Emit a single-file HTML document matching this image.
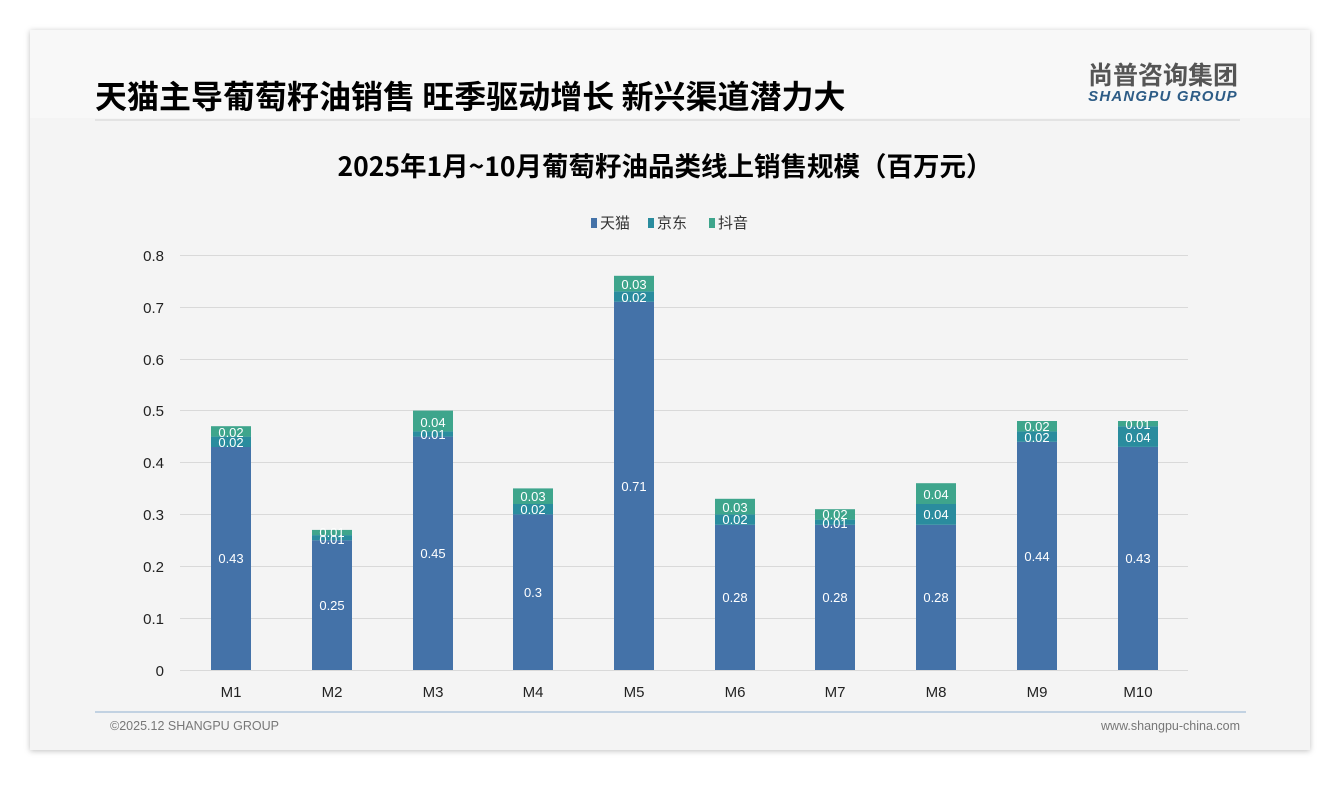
<!DOCTYPE html><html><head><meta charset="utf-8"><style>
body{margin:0;width:1340px;height:780px;background:#fff;font-family:"Liberation Sans","Noto Sans CJK SC",sans-serif;overflow:hidden}
</style></head><body>
<svg width="1340" height="780" xmlns="http://www.w3.org/2000/svg" font-family="Liberation Sans, Noto Sans CJK SC, sans-serif">
<defs><filter id="s" x="-5%" y="-5%" width="110%" height="110%"><feDropShadow dx="0" dy="1" stdDeviation="3" flood-color="#000" flood-opacity="0.25"/></filter></defs>
<rect x="30" y="30" width="1280" height="720" fill="#f4f4f4" filter="url(#s)"/>
<rect x="30" y="30" width="1280" height="88" fill="#f8f8f8"/>
<text x="95" y="108" font-size="32" font-weight="bold" fill="#000" font-family="Noto Sans CJK SC, sans-serif">天猫主导葡萄籽油销售 旺季驱动增长 新兴渠道潜力大</text>
<text x="1163" y="84" font-size="25" font-weight="bold" fill="#555" text-anchor="middle" font-family="Noto Sans CJK SC, sans-serif">尚普咨询集团</text>
<text x="1163" y="101" font-size="15" font-weight="bold" font-style="italic" fill="#2d5c86" text-anchor="middle" letter-spacing="1.2">SHANGPU GROUP</text>
<line x1="95" y1="120" x2="1240" y2="120" stroke="#ddd" stroke-width="1.5"/>
<text x="665" y="176" font-size="26.5" font-weight="bold" fill="#000" text-anchor="middle" font-family="Noto Sans CJK SC, sans-serif">2025年1月~10月葡萄籽油品类线上销售规模（百万元）</text>
<g font-size="15" fill="#333" font-family="Noto Sans CJK SC, sans-serif">
<rect x="591" y="218" width="6" height="10" fill="#4472a8"/><text x="600" y="228">天猫</text>
<rect x="648" y="218" width="6" height="10" fill="#2a8c9e"/><text x="657" y="228">京东</text>
<rect x="709" y="218" width="6" height="10" fill="#3ea58c"/><text x="718" y="228">抖音</text>
</g>
<g stroke="#d9d9d9" stroke-width="1">
<line x1="180" y1="255.5" x2="1188" y2="255.5"/><line x1="180" y1="307.5" x2="1188" y2="307.5"/><line x1="180" y1="359.5" x2="1188" y2="359.5"/><line x1="180" y1="410.5" x2="1188" y2="410.5"/><line x1="180" y1="462.5" x2="1188" y2="462.5"/><line x1="180" y1="514.5" x2="1188" y2="514.5"/><line x1="180" y1="566.5" x2="1188" y2="566.5"/><line x1="180" y1="618.5" x2="1188" y2="618.5"/><line x1="180" y1="670.5" x2="1188" y2="670.5"/>
</g>
<g font-size="15" fill="#222" text-anchor="end">
<text x="164" y="261">0.8</text><text x="164" y="313">0.7</text><text x="164" y="365">0.6</text><text x="164" y="416">0.5</text><text x="164" y="468">0.4</text><text x="164" y="520">0.3</text><text x="164" y="572">0.2</text><text x="164" y="624">0.1</text><text x="164" y="676">0</text>
</g>
<g>
<rect x="211" y="446.9" width="40" height="223.1" fill="#4472a8"/><rect x="211" y="436.6" width="40" height="10.4" fill="#2a8c9e"/><rect x="211" y="426.2" width="40" height="10.4" fill="#3ea58c"/>
<rect x="312" y="540.3" width="40" height="129.7" fill="#4472a8"/><rect x="312" y="535.1" width="40" height="5.2" fill="#2a8c9e"/><rect x="312" y="529.9" width="40" height="5.2" fill="#3ea58c"/>
<rect x="413" y="436.6" width="40" height="233.4" fill="#4472a8"/><rect x="413" y="431.4" width="40" height="5.2" fill="#2a8c9e"/><rect x="413" y="410.6" width="40" height="20.8" fill="#3ea58c"/>
<rect x="513" y="514.4" width="40" height="155.6" fill="#4472a8"/><rect x="513" y="504" width="40" height="10.4" fill="#2a8c9e"/><rect x="513" y="488.4" width="40" height="15.6" fill="#3ea58c"/>
<rect x="614" y="301.7" width="40" height="368.3" fill="#4472a8"/><rect x="614" y="291.3" width="40" height="10.4" fill="#2a8c9e"/><rect x="614" y="275.8" width="40" height="15.5" fill="#3ea58c"/>
<rect x="715" y="524.8" width="40" height="145.2" fill="#4472a8"/><rect x="715" y="514.4" width="40" height="10.4" fill="#2a8c9e"/><rect x="715" y="498.8" width="40" height="15.6" fill="#3ea58c"/>
<rect x="815" y="524.8" width="40" height="145.2" fill="#4472a8"/><rect x="815" y="519.6" width="40" height="5.2" fill="#2a8c9e"/><rect x="815" y="509.2" width="40" height="10.4" fill="#3ea58c"/>
<rect x="916" y="524.8" width="40" height="145.2" fill="#4472a8"/><rect x="916" y="504" width="40" height="20.8" fill="#2a8c9e"/><rect x="916" y="483.2" width="40" height="20.8" fill="#3ea58c"/>
<rect x="1017" y="441.8" width="40" height="228.2" fill="#4472a8"/><rect x="1017" y="431.4" width="40" height="10.4" fill="#2a8c9e"/><rect x="1017" y="421" width="40" height="10.4" fill="#3ea58c"/>
<rect x="1118" y="446.9" width="40" height="223.1" fill="#4472a8"/><rect x="1118" y="426.2" width="40" height="20.7" fill="#2a8c9e"/><rect x="1118" y="421" width="40" height="5.2" fill="#3ea58c"/>
</g>
<g font-size="13" fill="#fff" text-anchor="middle">
<text x="231" y="563">0.43</text><text x="231" y="447">0.02</text><text x="231" y="437">0.02</text>
<text x="332" y="610">0.25</text><text x="332" y="544">0.01</text><text x="332" y="537">0.01</text>
<text x="433" y="558">0.45</text><text x="433" y="439">0.01</text><text x="433" y="427">0.04</text>
<text x="533" y="597">0.3</text><text x="533" y="514">0.02</text><text x="533" y="501">0.03</text>
<text x="634" y="491">0.71</text><text x="634" y="302">0.02</text><text x="634" y="289">0.03</text>
<text x="735" y="602">0.28</text><text x="735" y="524">0.02</text><text x="735" y="512">0.03</text>
<text x="835" y="602">0.28</text><text x="835" y="528">0.01</text><text x="835" y="519">0.02</text>
<text x="936" y="602">0.28</text><text x="936" y="519">0.04</text><text x="936" y="499">0.04</text>
<text x="1037" y="561">0.44</text><text x="1037" y="442">0.02</text><text x="1037" y="431">0.02</text>
<text x="1138" y="563">0.43</text><text x="1138" y="442">0.04</text><text x="1138" y="429">0.01</text>
</g>
<g font-size="15" fill="#222" text-anchor="middle">
<text x="231" y="697">M1</text><text x="332" y="697">M2</text><text x="433" y="697">M3</text><text x="533" y="697">M4</text><text x="634" y="697">M5</text><text x="735" y="697">M6</text><text x="835" y="697">M7</text><text x="936" y="697">M8</text><text x="1037" y="697">M9</text><text x="1138" y="697">M10</text>
</g>
<line x1="95" y1="712" x2="1246" y2="712" stroke="#8fb0d0" stroke-width="1"/>
<text x="110" y="730" font-size="12.5" fill="#777">©2025.12 SHANGPU GROUP</text>
<text x="1240" y="730" font-size="12.5" fill="#777" text-anchor="end">www.shangpu-china.com</text>
</svg>
</body></html>
